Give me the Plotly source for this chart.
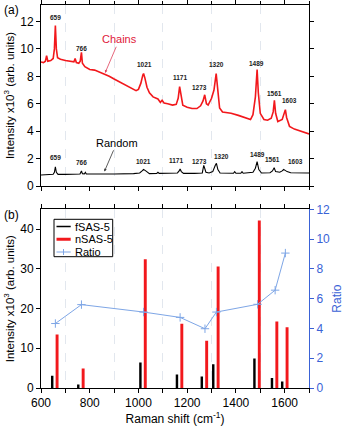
import plotly.graph_objects as go

# ---------------- data ----------------
# Panel (a): Raman spectra (x in cm^-1, intensity x10^3)
chains_x = [600, 610, 618, 623, 628, 640, 650, 655, 659, 663, 668, 680, 700, 720, 735, 740, 745,
            755, 761, 766, 770, 780, 800, 820, 840, 860, 880, 900, 920, 940, 960, 980, 990, 1000,
            1010, 1018, 1021, 1026, 1035, 1045, 1060, 1080, 1090, 1097, 1105, 1120, 1140, 1155,
            1163, 1169, 1175, 1182, 1200, 1220, 1240, 1255, 1265, 1272, 1279, 1286, 1300, 1310,
            1319, 1326, 1333, 1345, 1380, 1410, 1440, 1460, 1470, 1480, 1487, 1492, 1500, 1515,
            1530, 1545, 1553, 1558, 1563, 1572, 1590, 1598, 1603, 1608, 1620, 1640, 1660, 1680, 1700]
chains_y = [9.05, 9.0, 9.1, 9.5, 9.1, 9.15, 9.3, 10.0, 11.7, 10.0, 9.35, 9.25, 9.15, 9.1, 9.05, 9.3, 9.0,
            8.95, 9.1, 9.75, 8.95, 8.7, 8.5, 8.45, 8.3, 8.2, 8.0, 7.8, 7.6, 7.4, 7.2, 7.0, 6.95, 7.05,
            7.5, 8.1, 8.2, 7.9, 7.2, 6.8, 6.5, 6.35, 6.1, 6.25, 6.05, 6.0, 5.9, 5.95,
            6.4, 7.25, 6.5, 5.9, 5.75, 5.65, 5.65, 5.85, 6.2, 6.65, 6.0, 5.9, 6.4, 7.0,
            8.2, 7.0, 5.7, 5.4, 5.3, 5.15, 4.95, 4.85, 5.2, 6.5, 8.5, 6.8, 5.3, 4.85,
            4.8, 4.95, 5.4, 6.25, 5.3, 4.7, 4.85, 5.3, 5.57, 5.0, 4.35, 4.15, 4.05, 3.9, 3.8]

random_x = [600, 640, 650, 655, 659, 663, 670, 700, 740, 760, 766, 770, 778, 782, 786, 820, 900, 980,
            1005, 1015, 1021, 1030, 1045, 1075, 1080, 1085, 1100, 1120, 1160, 1167, 1171, 1176, 1185,
            1230, 1262, 1268, 1273, 1277, 1290, 1305, 1315, 1320, 1326, 1335, 1390, 1395, 1400, 1420,
            1425, 1430, 1470, 1480, 1487, 1494, 1505, 1540, 1550, 1557, 1563, 1580, 1590, 1596, 1610,
            1625, 1700]
random_y = [0.8, 0.82, 0.85, 1.0, 1.4, 1.0, 0.85, 0.85, 0.85, 0.88, 1.09, 0.9, 0.88, 1.0, 0.88, 0.87, 0.87, 0.9,
            0.95, 1.1, 1.21, 1.1, 0.9, 0.92, 1.0, 0.92, 0.92, 0.9, 0.95, 1.1, 1.24, 1.05, 0.92,
            0.92, 0.95, 1.5, 1.2, 1.0, 0.95, 1.05, 1.5, 1.65, 1.2, 0.95, 0.93, 1.05, 0.93, 0.93,
            1.05, 0.93, 1.0, 1.3, 1.77, 1.2, 0.95, 0.97, 1.1, 1.33, 1.05, 1.0, 1.1, 1.21, 1.05,
            0.97, 0.95]

# Peak positions (cm^-1) and labels
peaks = [659, 766, 1021, 1171, 1273, 1320, 1489, 1561, 1603]
peak_labels = ["659", "766", "1021", "1171", "1273", "1320", "1489", "1561", "1603"]

# Panel (b): peak intensities (x10^3) and ratio
fsas5 = [3.1, 0.85, 6.4, 3.4, 2.9, 6.0, 7.45, 2.5, 1.65]
nsas5 = [13.5, 4.9, 32.4, 16.2, 11.9, 30.6, 42.2, 16.75, 15.3]
ratio = [4.33, 5.6, 5.1, 4.74, 3.98, 5.1, 5.62, 6.57, 9.06]

series_names = ["fSAS-5", "nSAS-5", "Ratio"]

# ---------------- layout helpers (positions of peak labels) ----------------
red_lab_x = [659, 768, 1023, 1170, 1252, 1320, 1484, 1559, 1620]
red_lab_y = [12.27, 10.06, 8.87, 7.9, 7.2, 8.87, 8.96, 6.74, 6.25]
blk_lab_x = [659, 768, 1020, 1154, 1250, 1341, 1487, 1550, 1645]
blk_lab_y = [2.09, 1.72, 1.77, 1.89, 1.82, 2.18, 2.33, 1.94, 1.77]

RED = "#f2181c"
BLUE_LINE = "#7ea6e6"
BLUE_AX = "#3a62d6"
GRID = "#e2e7ee"
FONT = "Liberation Sans, Arial, sans-serif"

W, H = 348, 428
ML, MR, MT, MB = 41, 39, 5, 40
PW, PH = W - ML - MR, H - MT - MB
XR = [600, 1700]
YB = [0, 45]


def py2fy(py):
    return (H - MB - py) / PH


def px2x(px):
    # pixel column -> data x on the shared Raman-shift axis
    return XR[0] + (px - ML) * (XR[1] - XR[0]) / PW


def py2yb(py):
    # pixel row -> data y on the bottom panel's left axis
    top = H - MB - (bot_dom[1] * PH)
    bottom = H - MB
    return YB[0] + (bottom - py) * (YB[1] - YB[0]) / (bottom - top)


top_dom = [py2fy(186), 1.0]
bot_dom = [0.0, py2fy(209.3)]

fig = go.Figure()

# panel (a)
fig.add_trace(go.Scatter(x=chains_x, y=chains_y, mode="lines", line=dict(color=RED, width=1.6),
                         xaxis="x2", yaxis="y2", showlegend=False))
fig.add_trace(go.Scatter(x=random_x, y=random_y, mode="lines", line=dict(color="black", width=1.1),
                         xaxis="x2", yaxis="y2", showlegend=False))

# panel (b)
fig.add_trace(go.Bar(x=peaks, y=fsas5, width=10, offset=-18, name=series_names[0],
                     marker=dict(color="black", line=dict(width=0)),
                     xaxis="x", yaxis="y", showlegend=False))
fig.add_trace(go.Bar(x=peaks, y=nsas5, width=12, offset=1, name=series_names[1],
                     marker=dict(color=RED, line=dict(width=0)),
                     xaxis="x", yaxis="y", showlegend=False))
fig.add_trace(go.Scatter(x=peaks, y=ratio, mode="lines+markers", name=series_names[2],
                         line=dict(color=BLUE_LINE, width=1),
                         marker=dict(symbol="cross-thin", size=6, line=dict(color=BLUE_LINE, width=1)),
                         xaxis="x", yaxis="y3", showlegend=False))

xcommon = dict(range=XR, dtick=200, tick0=600, ticks="outside", ticklen=4, tickwidth=1,
               tickcolor="black", showline=True, linecolor="black", linewidth=1, mirror="allticks",
               showgrid=False, zeroline=False, automargin=False,
               minor=dict(dtick=100, tick0=600, ticks="outside", ticklen=3, tickcolor="black",
                          showgrid=True, gridcolor=GRID, griddash="dash", gridwidth=0.7),
               tickfont=dict(size=12, color="black", family=FONT))

annotations = []
shapes = []
for xl, yl, t in zip(red_lab_x, red_lab_y, peak_labels):
    annotations.append(dict(x=xl, y=yl, xref="x2", yref="y2", text="<b>%s</b>" % t, showarrow=False,
                            font=dict(size=6.5, color="#222222", family=FONT)))
for xl, yl, t in zip(blk_lab_x, blk_lab_y, peak_labels):
    annotations.append(dict(x=xl, y=yl, xref="x2", yref="y2", text="<b>%s</b>" % t, showarrow=False,
                            font=dict(size=6.5, color="#222222", family=FONT)))
annotations += [
    dict(x=863, y=8.25, xref="x2", yref="y2", ax=922, ay=10.7, axref="x2", ayref="y2",
         text="Chains", showarrow=True, arrowhead=2, arrowsize=0.7, arrowwidth=0.8,
         arrowcolor="#e0405a", font=dict(size=11, color="#e0203a", family=FONT)),
    dict(x=860, y=1.05, xref="x2", yref="y2", ax=911, ay=3.15, axref="x2", ayref="y2",
         text="Random", showarrow=True, arrowhead=2, arrowsize=0.7, arrowwidth=0.8,
         arrowcolor="#333333", font=dict(size=11, color="black", family=FONT)),
    dict(x=(2 - ML) / PW, y=py2fy(10), xref="paper", yref="paper", xanchor="left", yanchor="middle",
         text="(a)", showarrow=False, font=dict(size=12, color="black", family=FONT)),
    dict(x=(2 - ML) / PW, y=py2fy(215), xref="paper", yref="paper", xanchor="left", yanchor="middle",
         text="(b)", showarrow=False, font=dict(size=12, color="black", family=FONT)),
]

# compact legend, drawn in the bottom panel's axes
leg_box = (54, 219.3, 112.7, 256.7)
shapes.append(dict(type="rect", xref="x", yref="y",
                   x0=px2x(leg_box[0]), x1=px2x(leg_box[2]),
                   y0=py2yb(leg_box[3]), y1=py2yb(leg_box[1]),
                   line=dict(color="black", width=1), fillcolor="white", layer="above"))
leg_rows = [226.5, 239.3, 252]
leg_styles = [("black", 1.5), (RED, 3), (BLUE_LINE, 1)]
for name, ry, (col, lw) in zip(series_names, leg_rows, leg_styles):
    shapes.append(dict(type="line", xref="x", yref="y", x0=px2x(56.5), x1=px2x(70.7),
                       y0=py2yb(ry), y1=py2yb(ry), line=dict(color=col, width=lw), layer="above"))
    annotations.append(dict(x=px2x(73), y=py2yb(ry), xref="x", yref="y", xanchor="left",
                            yanchor="middle", text=name, showarrow=False,
                            font=dict(size=11, color="black", family=FONT)))
# cross marker in legend's Ratio entry
cx, cy = 63.5, leg_rows[2]
shapes.append(dict(type="line", xref="x", yref="y", x0=px2x(cx), x1=px2x(cx),
                   y0=py2yb(cy - 3), y1=py2yb(cy + 3), line=dict(color=BLUE_LINE, width=1), layer="above"))

ytitle = "Intensity x10<sup>3</sup> (arb. units)"

fig.update_layout(
    width=W, height=H,
    margin=dict(l=ML, r=MR, t=MT, b=MB),
    paper_bgcolor="white", plot_bgcolor="white",
    font=dict(family=FONT, color="black"),
    barmode="overlay",
    showlegend=False,
    xaxis=dict(domain=[0, 1], anchor="y", **xcommon,
               title=dict(text="Raman shift (cm<sup>-1</sup>)", font=dict(size=12), standoff=4)),
    xaxis2=dict(domain=[0, 1], anchor="y2", showticklabels=False, **xcommon),
    yaxis=dict(domain=bot_dom, anchor="x", range=YB, dtick=10, ticks="outside", ticklen=4,
               tickcolor="black", showline=True, linecolor="black", linewidth=1, mirror=False,
               showgrid=False, zeroline=False, tickfont=dict(size=12), automargin=False,
               title=dict(text=ytitle, font=dict(size=11.5), standoff=3)),
    yaxis3=dict(overlaying="y", side="right", anchor="x", range=[0, 12], dtick=2, ticks="outside",
                ticklen=4, tickcolor=BLUE_AX, showline=True, linecolor=BLUE_AX, linewidth=1,
                showgrid=False, zeroline=False, tickfont=dict(size=12, color=BLUE_AX), automargin=False,
                title=dict(text="Ratio", font=dict(size=12, color=BLUE_AX), standoff=3)),
    yaxis2=dict(domain=top_dom, anchor="x2", range=[0, 13.2], dtick=2, ticks="outside", ticklen=4,
                tickcolor="black", showline=True, linecolor="black", linewidth=1, mirror="ticks",
                showgrid=False, zeroline=False, tickfont=dict(size=12), automargin=False,
                title=dict(text=ytitle, font=dict(size=11.5), standoff=3)),
    annotations=annotations,
    shapes=shapes,
)

fig.write_html("out.html", config={"displayModeBar": False},
               post_script="document.body.style.margin='0';document.body.style.overflow='hidden';")
